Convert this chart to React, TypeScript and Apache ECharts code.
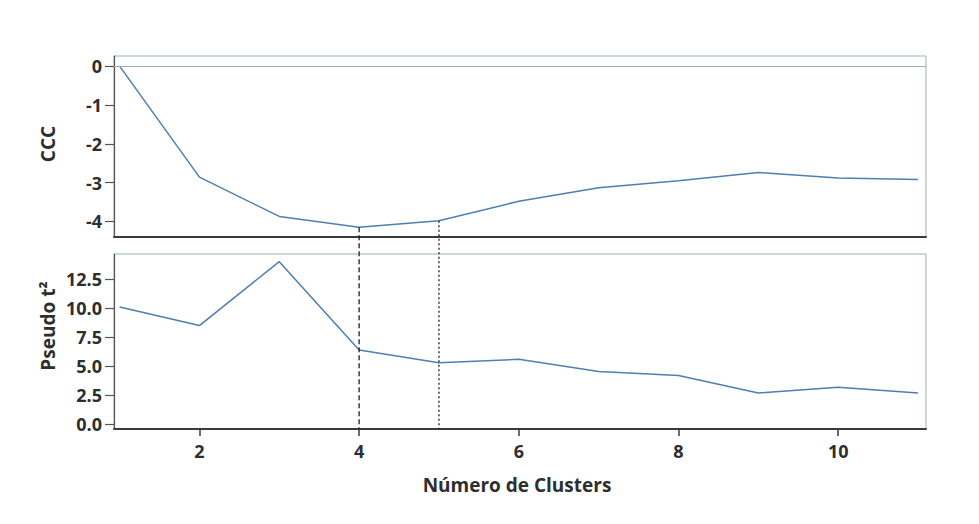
import React, { useEffect, useRef } from "react";
import * as echarts from "echarts";

const clusters = [1, 2, 3, 4, 5, 6, 7, 8, 9, 10, 11];
const cccValues = [0, -2.86, -3.87, -4.15, -3.98, -3.48, -3.13, -2.95, -2.74, -2.88, -2.92];
const pseudoT2Values = [10.1, 8.5, 14.0, 6.4, 5.3, 5.6, 4.55, 4.2, 2.7, 3.2, 2.7];
const xTicks = [2, 4, 6, 8, 10];
const cccTicks = [0, -1, -2, -3, -4];
const pseudoTicks = [0, 2.5, 5, 7.5, 10, 12.5];
const markedClusters = [4, 5];

const FONT = "'Open Sans', 'DejaVu Sans', sans-serif";
const LABEL_COLOR = "#2e2e2e";
const LINE_COLOR = "#4f7fae";
const BORDER_COLOR = "#9bb3b3";

export default function App() {
  const ref = useRef<HTMLDivElement>(null);
  useEffect(() => {
    if (!ref.current) return;
    const chart = echarts.init(ref.current, null, { renderer: "svg" });
    const xMin = 0.93;
    const xMax = 11.1;
    const cccMin = -4.4;
    const cccMax = 0.26;
    const psMin = -0.4;
    const psMax = 14.66;
    const labelStyle = { color: LABEL_COLOR, fontFamily: FONT, fontWeight: "bold" as const, fontSize: 18 };
    const titleFont = `bold 19px ${FONT}`;
    chart.setOption({
      animation: false,
      backgroundColor: "#ffffff",
      grid: [
        { left: 114, top: 56, right: 53, height: 181, show: true, borderColor: BORDER_COLOR, borderWidth: 1 },
        { left: 114, top: 254, right: 53, height: 175, show: true, borderColor: BORDER_COLOR, borderWidth: 1 },
      ],
      xAxis: [
        {
          type: "value", gridIndex: 0, min: xMin, max: xMax,
          axisLine: { show: true, onZero: false, lineStyle: { color: "#3a3a3a", width: 2 } },
          axisTick: { show: false }, axisLabel: { show: false }, splitLine: { show: false },
        },
        {
          type: "value", gridIndex: 1, min: xMin, max: xMax,
          axisLine: { show: true, onZero: false, lineStyle: { color: "#3a3a3a", width: 2 } },
          axisTick: { show: true, length: 7, customValues: xTicks, lineStyle: { color: "#3a3a3a", width: 1.5 } },
          axisLabel: { ...labelStyle, customValues: xTicks, margin: 13 },
          splitLine: { show: false },
        },
      ],
      yAxis: [
        {
          type: "value", gridIndex: 0, min: cccMin, max: cccMax,
          axisLine: { show: true, onZero: false, lineStyle: { color: "#555", width: 1.2 } },
          axisTick: { show: true, length: 9, customValues: cccTicks, lineStyle: { color: "#555", width: 1.2 } },
          axisLabel: { ...labelStyle, customValues: cccTicks, margin: 12 },
          splitLine: { show: false },
        },
        {
          type: "value", gridIndex: 1, min: psMin, max: psMax,
          axisLine: { show: true, onZero: false, lineStyle: { color: "#555", width: 1.2 } },
          axisTick: { show: true, length: 9, customValues: pseudoTicks, lineStyle: { color: "#555", width: 1.2 } },
          axisLabel: { ...labelStyle, customValues: pseudoTicks, margin: 12, formatter: (v: number) => v.toFixed(1) },
          splitLine: { show: false },
        },
      ],
      series: [
        {
          type: "line", xAxisIndex: 0, yAxisIndex: 0,
          data: clusters.map((c, i) => [c, cccValues[i]]),
          showSymbol: false, lineStyle: { color: LINE_COLOR, width: 1.5 },
          markLine: {
            silent: true, symbol: "none", label: { show: false },
            lineStyle: { color: BORDER_COLOR, width: 1, type: "solid" },
            data: [{ yAxis: 0 }],
          },
        },
        {
          type: "line", xAxisIndex: 1, yAxisIndex: 1,
          data: clusters.map((c, i) => [c, pseudoT2Values[i]]),
          showSymbol: false, lineStyle: { color: LINE_COLOR, width: 1.5 },
        },
      ],
    });
    const dashes = [[5, 3], [2, 2.5]];
    const lines: any[] = markedClusters.map((c, k) => {
      const idx = clusters.indexOf(c);
      const top = chart.convertToPixel({ gridIndex: 0 }, [c, cccValues[idx]]) as number[];
      const bottom = chart.convertToPixel({ gridIndex: 1 }, [c, psMin]) as number[];
      return {
        type: "line",
        silent: true,
        z: 10,
        shape: { x1: top[0], y1: top[1], x2: bottom[0], y2: bottom[1] },
        style: { stroke: "#1e1e1e", lineWidth: 1.3, lineDash: dashes[k] },
      };
    });
    const titles: any[] = [
      {
        type: "text", x: 48, y: 144, rotation: Math.PI / 2,
        style: { text: "CCC", font: titleFont, fill: LABEL_COLOR, align: "center", verticalAlign: "middle" },
      },
      {
        type: "text", x: 48, y: 326, rotation: Math.PI / 2,
        style: { text: "Pseudo t²", font: titleFont, fill: LABEL_COLOR, align: "center", verticalAlign: "middle" },
      },
      {
        type: "text", x: 517, y: 485,
        style: { text: "Número de Clusters", font: titleFont, fill: LABEL_COLOR, align: "center", verticalAlign: "middle" },
      },
    ];
    chart.setOption({ graphic: [...lines, ...titles] });
    return () => chart.dispose();
  }, []);
  return (
    <div
      ref={ref}
      style={{ position: "fixed", left: 0, top: 0, width: 979, height: 524, background: "#fff" }}
    />
  );
}
